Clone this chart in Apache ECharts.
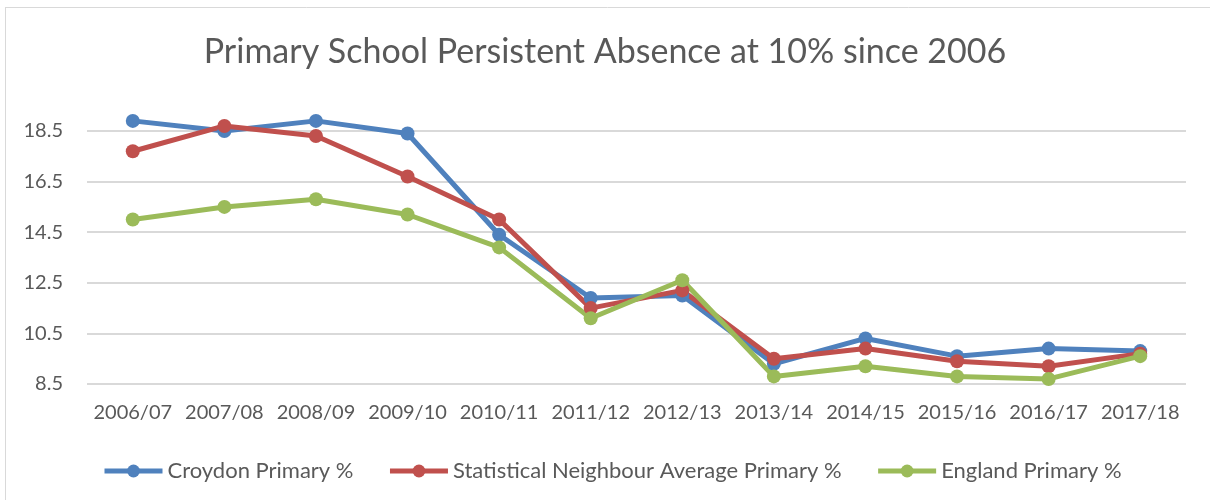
<!DOCTYPE html>
<html>
<head>
<meta charset="utf-8">
<script src="https://cdn.jsdelivr.net/npm/echarts@6/dist/echarts.min.js"></script>
<style>
html,body{margin:0;padding:0;background:#fff;}
#c{width:1210px;height:500px;}
</style>
</head>
<body>
<div id="c"></div>
<script>
const categories = ['2006/07','2007/08','2008/09','2009/10','2010/11','2011/12','2012/13','2013/14','2014/15','2015/16','2016/17','2017/18'];
const croydon = [18.9, 18.5, 18.9, 18.4, 14.4, 11.9, 12.0, 9.3, 10.3, 9.6, 9.9, 9.8];
const statNeighbour = [17.7, 18.7, 18.3, 16.7, 15.0, 11.5, 12.2, 9.5, 9.9, 9.4, 9.2, 9.7];
const england = [15.0, 15.5, 15.8, 15.2, 13.9, 11.1, 12.6, 8.8, 9.2, 8.8, 8.7, 9.6];
const seriesNames = ['Croydon Primary %', 'Statistical Neighbour Average Primary %', 'England Primary %'];
const titleText = 'Primary School Persistent Absence at 10% since 2006';

const colors = ['#4F81BD', '#C0504D', '#9BBB59'];
const font = 'Lato';
const txt = '#595959';

function mk(name, data, color) {
  return {
    name: name, type: 'line', data: data,
    symbol: 'circle', symbolSize: 14,
    lineStyle: {width: 5, color: color},
    itemStyle: {color: color},
    emphasis: {disabled: true},
    animation: false
  };
}

const chart = echarts.init(document.getElementById('c'), null, {renderer: 'canvas'});
chart.setOption({
  animation: false,
  color: colors,
  title: {
    text: titleText, left: 'center', top: 30,
    textStyle: {fontFamily: font, fontSize: 34, fontWeight: 400, color: txt}
  },
  graphic: [
    {type: 'line', shape: {x1: 5, y1: 7.5, x2: 1210, y2: 7.5}, style: {stroke: '#d9d9d9', lineWidth: 1}},
    {type: 'line', shape: {x1: 5.5, y1: 7, x2: 5.5, y2: 500}, style: {stroke: '#d9d9d9', lineWidth: 1}}
  ],
  legend: {
    data: seriesNames, left: 97, top: 455,
    itemWidth: 58, itemHeight: 16, itemGap: 34,
    lineStyle: {width: 5},
    textStyle: {fontFamily: font, fontSize: 22, color: txt}
  },
  grid: {left: 87, right: 24, top: 105.7, bottom: 116, containLabel: false},
  xAxis: {
    type: 'category', data: categories, boundaryGap: true,
    axisLine: {show: false}, axisTick: {show: false},
    axisLabel: {fontFamily: font, fontSize: 20, color: txt, margin: 19, interval: 0}
  },
  yAxis: {
    type: 'value', min: 8.5, max: 19.5, interval: 2,
    axisLine: {show: false}, axisTick: {show: false},
    axisLabel: {fontFamily: font, fontSize: 20, color: txt, margin: 24, showMaxLabel: false,
      formatter: v => v.toFixed(1)},
    splitLine: {lineStyle: {width: 2, color: ['#d9d9d9','#d9d9d9','#d9d9d9','#d9d9d9','#d9d9d9','#d9d9d9','rgba(0,0,0,0)']}}
  },
  series: [
    mk(seriesNames[0], croydon, colors[0]),
    mk(seriesNames[1], statNeighbour, colors[1]),
    mk(seriesNames[2], england, colors[2])
  ]
});
</script>
</body>
</html>
